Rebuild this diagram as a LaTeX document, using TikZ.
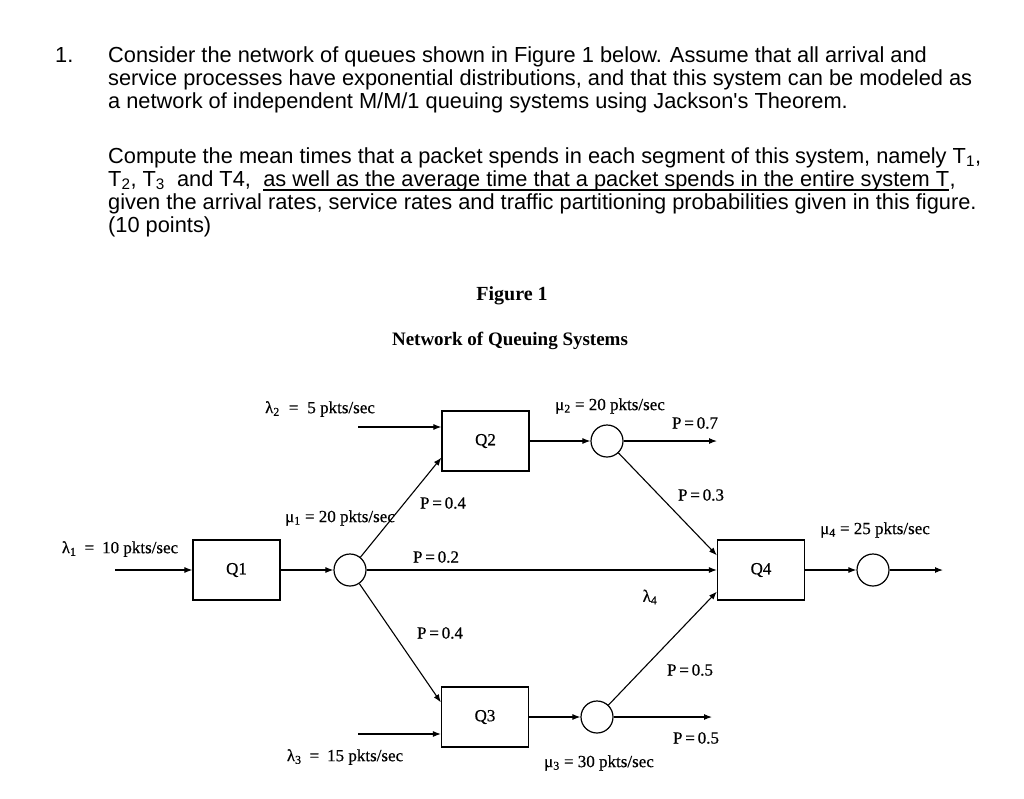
\documentclass[tikz,border=0pt]{standalone}
\usepackage{fontspec}
\setmainfont{Liberation Sans}
\newfontfamily\figfont{Liberation Serif}[FakeBold=0.6]
\newfontfamily\figfontbf{Liberation Serif}
\usetikzlibrary{arrows.meta,calc}
\begin{document}
\begin{tikzpicture}[x=1pt,y=-1pt,
  txt/.style={anchor=base west,inner sep=0pt,font=\fontsize{21.8}{23}\selectfont},
  qbox/.style={draw,line width=1.2pt,minimum width=87pt,minimum height=60pt,inner sep=0pt,font=\figfont\fontsize{17}{19}\selectfont},
  srv/.style={draw,circle,line width=1.2pt,minimum size=32pt,inner sep=0pt},
  flow/.style={line width=1.1pt,-{Latex[length=8pt,width=6pt]}},
  lab/.style={inner sep=0pt,font=\figfont\fontsize{17}{19}\selectfont},
  ttl/.style={inner sep=0pt,font=\figfontbf\bfseries\fontsize{19}{21}\selectfont},
]
\useasboundingbox (0,0) rectangle (1024,798);
% question text
\node[txt] (n1) at (55,62) {1.};
\node[txt] (l1) at (108,62) {Consider the network of queues shown in Figure 1 below. Assume that all arrival and};
\node[txt] (l2) at (108,85) {service processes have exponential distributions, and that this system can be modeled as};
\node[txt] (l3) at (108,108) {a network of independent M/M/1 queuing systems using Jackson\textquotesingle s Theorem.};
\node[txt] (l4) at (108,163) {Compute the mean times that a packet spends in each segment of this system, namely T\textsubscript{1},};
\node[txt] (l5a) at (108,186) {T\textsubscript{2}, T\textsubscript{3} \ and T4,};
\node[txt] (l5b) at ($(l5a.base east)+(12,0)$) {as well as the average time that a packet spends in the entire system T};
\node[txt] (l5c) at (l5b.base east) {,};
\draw[line width=1.2pt] ($(l5b.base west)+(0,4)$) -- ($(l5b.base east)+(0,4)$);
\node[txt] (l6) at (108,209) {given the arrival rates, service rates and traffic partitioning probabilities given in this figure.};
\node[txt] (l7) at (108,232) {(10 points)};
% titles
\node[ttl,font=\figfontbf\bfseries\fontsize{20}{22}\selectfont] (fig) at (512,296) {Figure 1};
\node[ttl] (net) at (510,341) {Network of Queuing Systems};
% queues and servers
\node[qbox] (Q1) at (236.5,570) {Q1};
\node[qbox] (Q2) at (485.5,441) {Q2};
\node[qbox] (Q3) at (485,717) {Q3};
\node[qbox] (Q4) at (761,570) {Q4};
\node[srv] (C1) at (350,570) {};
\node[srv] (C2) at (607,441) {};
\node[srv] (C3) at (597,717) {};
\node[srv] (C4) at (873,570) {};
% labels
\node[lab] (lam2) at (320,409) {λ\textsubscript{2}\hspace{9pt}=\hspace{9pt}5 pkts/sec};
\node[lab] (mu2) at (610,406) {μ\textsubscript{2} = 20 pkts/sec};
\node[lab] (p07) at (695,423) {P\,=\,0.7};
\node[lab] (mu1) at (340,518) {μ\textsubscript{1} = 20 pkts/sec};
\node[lab] (p04a) at (443,503) {P\,=\,0.4};
\node[lab] (p03) at (701,495) {P\,=\,0.3};
\node[lab] (mu4) at (875,530) {μ\textsubscript{4} = 25 pkts/sec};
\node[lab] (lam1) at (120,549) {λ\textsubscript{1}\hspace{8pt}=\hspace{8pt}10 pkts/sec};
\node[lab] (p02) at (436,557) {P\,=\,0.2};
\node[lab] (lam4) at (650,597) {λ\textsubscript{4}};
\node[lab] (p04b) at (440,633) {P\,=\,0.4};
\node[lab] (p05a) at (690,670) {P\,=\,0.5};
\node[lab] (p05b) at (696,738) {P\,=\,0.5};
\node[lab] (lam3) at (345,757) {λ\textsubscript{3}\hspace{8pt}=\hspace{8pt}15 pkts/sec};
\node[lab] (mu3) at (599,763) {μ\textsubscript{3} = 30 pkts/sec};
% connectors
\coordinate (in1) at (115,570);
\coordinate (in2) at (358,427);
\coordinate (in3) at (358,734);
\coordinate (out2) at (717,441);
\coordinate (out3) at (712,717);
\coordinate (out4) at (943,570);
\draw[flow] (in1) -- (Q1.west);
\draw[flow] (Q1.east) -- (C1.west);
\draw[flow] (in2) -- (in2 -| Q2.west);
\draw[flow] (C1) -- ($(Q2.south west)+(0,-14)$);
\draw[flow] (Q2.east) -- (C2.west);
\draw[flow] (C2) -- (out2);
\draw[flow] (C2) -- ($(Q4.north west)+(0,16)$);
\draw[flow] (C1) -- (Q4.west);
\draw[flow] (C1) -- ($(Q3.north west)+(0,16)$);
\draw[flow] (in3) -- (in3 -| Q3.west);
\draw[flow] (Q3.east) -- (C3.west);
\draw[flow] (C3) -- (out3);
\draw[flow] (C3) -- ($(Q4.south west)+(0,-9)$);
\draw[flow] (Q4.east) -- (C4.west);
\draw[flow] (C4) -- (out4);
\end{tikzpicture}
\end{document}
